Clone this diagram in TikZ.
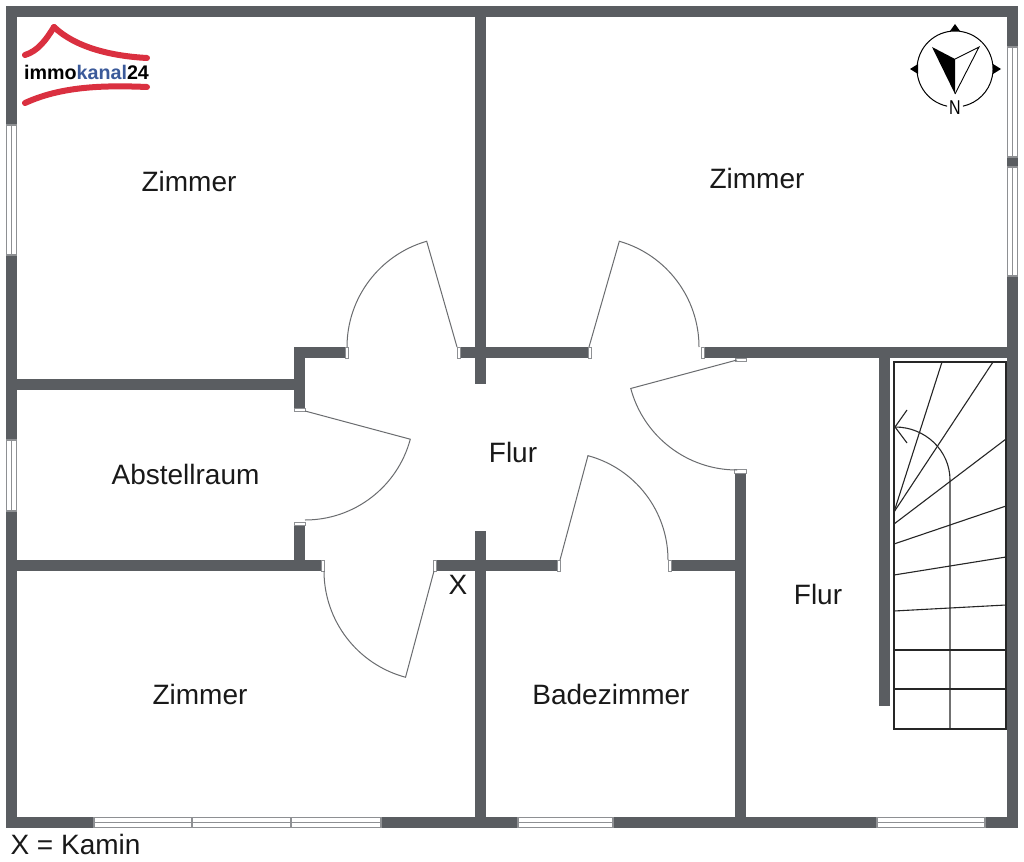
\documentclass[tikz,border=0pt]{standalone}
\usepackage{fontspec}
\setmainfont{Liberation Sans}
\definecolor{wallgray}{HTML}{5A5D61}
\definecolor{framegray}{HTML}{8E9093}
\definecolor{doorgray}{HTML}{6A6C6F}
\definecolor{logored}{HTML}{DA3040}
\definecolor{logoblue}{HTML}{3B5A9A}

\begin{document}
\begin{tikzpicture}[x=1pt, y=-1pt, line join=miter]
    \tikzstyle{wall}=[draw=wallgray, line width=11pt];
    \tikzstyle{frame}=[draw=framegray, line width=1.1pt, fill=white];
    \tikzstyle{pane}=[draw=framegray, line width=1.1pt];
    \tikzstyle{tab}=[draw=framegray, line width=0.8pt, fill=white];
    \tikzstyle{door}=[draw=doorgray, line width=1pt];
    \tikzstyle{tread}=[draw=black!85, line width=1.1pt];
    \tikzstyle{logoline}=[draw=logored, line width=6pt, line cap=round];
    \tikzstyle{room}=[inner sep=0pt, font=\fontsize{28}{30}\selectfont, text=black!90];

    \useasboundingbox (0,0) rectangle (1024,861);
    \fill[white] (0,0) rectangle (1024,861);

    % walls
    \draw[wall] (11.5, 11.5) rectangle (1012.5, 822.5);
    \path[wall] (480.5, 11) edge (480.5,384)
                (480.5,531) edge (480.5,822)
                (740,  469) edge (740,  822)
                (884.5,353) edge (884.5,706)
                (299.5,347) edge (299.5,411)
                (299.5,522) edge (299.5,565)
                (294,  352.5) edge (346,  352.5)
                (458,  352.5) edge (590,  352.5)
                (701,  352.5) edge (1012, 352.5)
                (12,   384) edge (294,  384)
                (12,   565) edge (323,  565)
                (434,  565) edge (560,  565)
                (668,  565) edge (740,  565);

    % windows
    \foreach \ya/\yb in {125/255, 440/511} {
        \draw[frame] (6.5,\ya) rectangle (16.5,\yb);
        \draw[pane] (11.5,\ya) -- (11.5,\yb);
    }
    \foreach \ya/\yb in {47/157, 167/276} {
        \draw[frame] (1007.5,\ya) rectangle (1017.5,\yb);
        \draw[pane] (1012.5,\ya) -- (1012.5,\yb);
    }
    \foreach \xa/\xb in {94/381, 518/613, 877/985} {
        \draw[frame] (\xa,817.5) rectangle (\xb,827.5);
        \draw[pane] (\xa,822.5) -- (\xb,822.5);
    }
    \draw[pane] (192,817.5) -- (192,827.5);
    \draw[pane] (291,817.5) -- (291,827.5);

    % door jambs
    \foreach \xa/\ya/\xb/\yb in {345/347/348/358, 457/347/460/358, 588/347/591/358, 701/347/704/358,
                                 294/408/305/411, 294/522/305/525, 321/560/324/571, 433/560/436/571,
                                 557/560/560/571, 668/560/671/571, 734/469/746/473, 735/358/746/361} {
        \draw[tab] (\xa,\ya) rectangle (\xb,\yb);
    }

    % doors: hinge, leaf angle, end angle, radius
    \foreach \hx/\hy/\ang/\end/\rad in {457/347/254/180/110, 589/347/-74/0/110, 305/411/15/90/109,
                                        434/571/105/180/110, 560/560/-75/0/108, 737/360/165/90/110} {
        \draw[door] (\hx,\hy) -- ++(\ang:\rad) arc[start angle=\ang, end angle=\end, radius=\rad];
    }

    % stairs
    \draw[tread] (894,362) rectangle (1006,729);
    \draw[tread] (894,689) -- (1006,689);
    \draw[tread] (894,650) -- (1006,650);
    \draw[tread] (894,611) -- (1006,605);
    \draw[tread] (894,575) -- (1006,557);
    \draw[tread] (894,544) -- (1006,506);
    \draw[tread] (894,524) -- (1006,439);
    \draw[tread] (894,512) -- (993,362);
    \draw[tread] (894,512) -- (942,362);
    \draw[tread] (950,729) -- (950,480) arc[start angle=0, end angle=-90, x radius=55, y radius=53];
    \draw[tread] (907,410) -- (895,427) -- (907,443);

    % compass
    \draw[black, line width=1pt] (955,69) ++(102:38) arc[start angle=102, end angle=438, radius=38];
    \fill[black] (950,31) -- (955,24) -- (960,31) -- cycle;
    \fill[black] (918,64) -- (910,69) -- (918,74) -- cycle;
    \fill[black] (993,64) -- (1001,69) -- (993,74) -- cycle;
    \fill[black] (932,47) -- (955,59) -- (955,94) -- cycle;
    \draw[black, line width=0.9pt] (955,59) -- (979,47) -- (955,94);
    \node at (955,108) (north) [inner sep=0pt, xscale=0.8, font=\fontsize{20}{20}\selectfont] {N};

    % logo
    \draw[logoline] (25,55) .. controls (38,51) and (46,40) .. (54,27);
    \draw[logoline] (54,27) .. controls (75,47) and (110,56) .. (147,58);
    \draw[logoline] (25,103) .. controls (60,87) and (100,85) .. (147,87);
    \node at (86.5,72) (logo) [inner sep=0pt, font=\fontsize{19.7}{20}\selectfont\bfseries]
        {immo\textcolor{logoblue}{kanal}24};

    % labels
    \node at (189,181.5) (zimmera) [room] {Zimmer};
    \node at (757,178.5) (zimmerb) [room] {Zimmer};
    \node at (200,694.5) (zimmerc) [room] {Zimmer};
    \node at (185.5,474) (abstell) [room] {Abstellraum};
    \node at (513,452)   (flura)   [room] {Flur};
    \node at (818,594)   (flurb)   [room] {Flur};
    \node at (611,694)   (bad)     [room] {Badezimmer};
    \node at (458,585)   (kamin)   [room] {X};
    \node at (75.5,844)  (legend)  [room] {X = Kamin};
\end{tikzpicture}
\end{document}
